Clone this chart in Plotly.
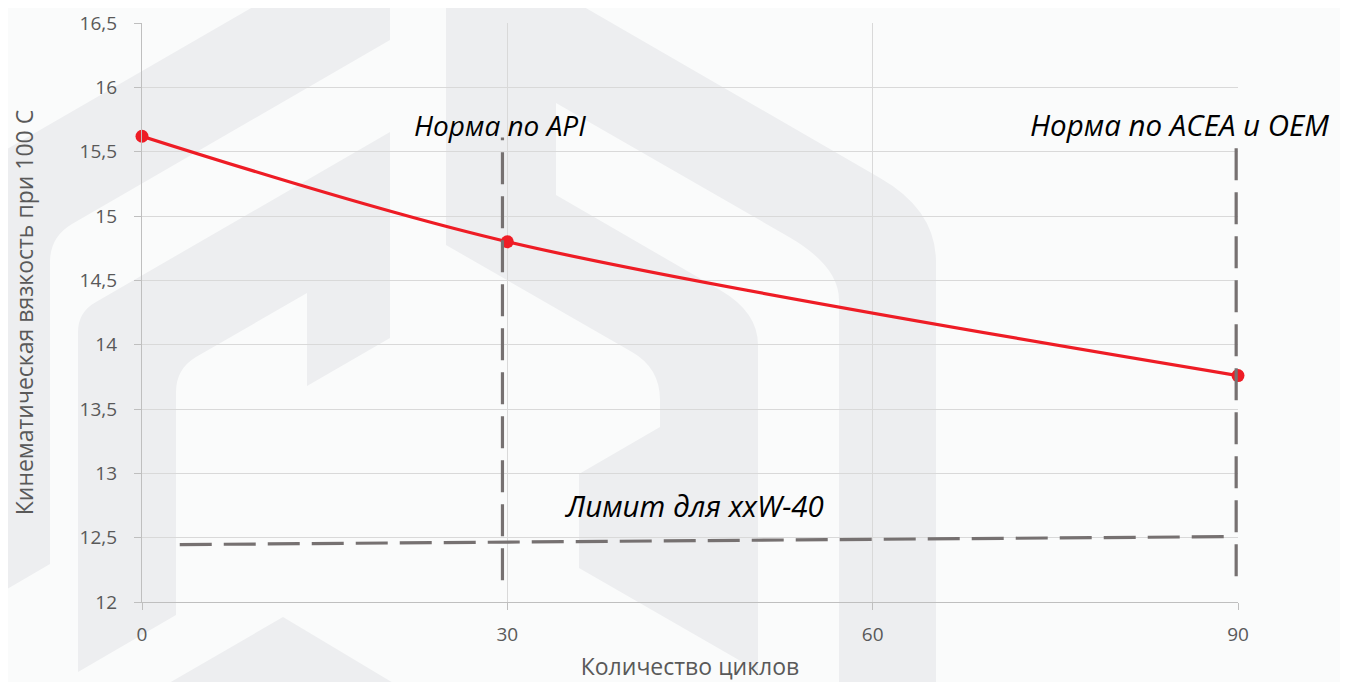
import plotly.graph_objects as go

# ---------------- data ----------------
cycles = [0, 30, 90]
viscosity = [15.62, 14.80, 13.76]

api_x = [29.6, 29.6]
api_y = [12.17, 15.61]

acea_x = [89.85, 89.85]
acea_y = [12.20, 15.53]

limit_x = [3.1, 88.9]
limit_y = [12.446, 12.508]

x_ticks = [0, 30, 60, 90]
y_ticks = [12, 12.5, 13, 13.5, 14, 14.5, 15, 15.5, 16, 16.5]
y_ticklabels = ["12", "12,5", "13", "13,5", "14", "14,5", "15", "15,5", "16", "16,5"]

label_api = "Норма по API"
label_acea = "Норма по ACEA и OEM"
label_limit = "Лимит для xxW-40"
x_title = "Количество циклов"
y_title = "Кинематическая вязкость при 100 С"

# ---------------- layout geometry ----------------
# the page body adds an 8px margin, so the figure is placed at (8, 8)
OFF = 8
SW, SH = 1348, 682              # screen size
PL, PR, PT, PB = 142, 1238, 23, 602   # wanted plot area on screen
W, H = SW - OFF, SH - OFF
ML, MT = PL - OFF, PT - OFF
MR, MB = W - (PR - OFF), H - (PB - OFF)
PW, PH = PR - PL, PB - PT

FONT = "Open Sans"
TICK_COLOR = "#595959"
GRID = "#d9d9d9"
AXIS = "#bfbfbf"
RED = "#ee1c25"
DASH_GREY = "#767171"
LOGO = "#edeef0"
BG = "#fafbfb"


def px(X, Y):
    """screen pixel -> paper coordinates"""
    return (X - PL) / PW, (PB - Y) / PH


def path_from(cmds):
    out = []
    for c in cmds:
        op = c[0]
        pts = c[1:]
        coords = []
        for i in range(0, len(pts), 2):
            a, b = px(pts[i], pts[i + 1])
            coords.append(f"{a:.5f},{b:.5f}")
        out.append(op + " " + " ".join(coords))
    return " ".join(out) + " Z"


logo_paths = [
    # left element, outer band with leg
    [("M", -10, 159), ("L", 265, 0), ("L", 390, 0), ("L", 390, 40), ("L", 72, 224),
     ("Q", 50, 237, 50, 262), ("L", 50, 564), ("L", -10, 599)],
    # left element, inner band with leg and notch
    [("M", 78, 332), ("Q", 78, 312, 96, 302), ("L", 390, 132), ("L", 390, 338),
     ("L", 307, 386), ("L", 307, 293), ("L", 196, 357), ("Q", 176, 369, 176, 392),
     ("L", 176, 615), ("L", 78, 672)],
    # middle element
    [("M", 446, -10), ("L", 572, -10), ("L", 572, 0), ("L", 880, 178), ("Q", 936, 210, 936, 262),
     ("L", 936, 690), ("L", 839, 690), ("L", 839, 300), ("Q", 839, 266, 789, 237),
     ("L", 556, 103), ("L", 556, 195), ("L", 720, 290), ("Q", 758, 312, 758, 345),
     ("L", 758, 671), ("L", 579, 568), ("L", 579, 474), ("L", 660, 427),
     ("L", 660, 400), ("Q", 660, 368, 632, 352), ("L", 446, 245)],
    # bottom chevron
    [("M", 157, 690), ("L", 283, 617), ("L", 405, 690)],
]

shapes = [
    dict(type="path", xref="paper", yref="paper", path=path_from(p),
         fillcolor=LOGO, line=dict(width=0), layer="below")
    for p in logo_paths
]

fig = go.Figure()

fig.add_trace(go.Scatter(
    x=cycles, y=viscosity, mode="lines+markers",
    line=dict(color=RED, width=3.2, shape="spline", smoothing=0.9),
    marker=dict(color=RED, size=13),
    cliponaxis=False, showlegend=False, hoverinfo="skip"))

for xs, ys in [(api_x, api_y), (acea_x, acea_y), (limit_x, limit_y)]:
    fig.add_trace(go.Scatter(
        x=xs, y=ys, mode="lines",
        line=dict(color=DASH_GREY, width=3.2, dash="32px,12px"),
        cliponaxis=False, showlegend=False, hoverinfo="skip"))

ann_font = dict(family=FONT, size=28, color="#000000")
ax, ay = px(412, 125)
fig.add_annotation(x=ax, y=ay, xref="paper", yref="paper", text=f"<i>{label_api}</i>",
                   showarrow=False, xanchor="left", yanchor="middle", font=ann_font)
ax, ay = px(1331, 125)
fig.add_annotation(x=ax, y=ay, xref="paper", yref="paper", text=f"<i>{label_acea}</i>",
                   showarrow=False, xanchor="right", yanchor="middle",
                   font=dict(family=FONT, size=29.5, color="#000000"))
ax, ay = px(563, 505)
fig.add_annotation(x=ax, y=ay, xref="paper", yref="paper", text=f"<i>{label_limit}</i>",
                   showarrow=False, xanchor="left", yanchor="middle",
                   font=dict(family=FONT, size=29.5, color="#000000"))

fig.update_layout(
    width=W, height=H,
    margin=dict(l=ML, r=MR, t=MT, b=MB, autoexpand=False),
    paper_bgcolor=BG, plot_bgcolor="rgba(0,0,0,0)",
    shapes=shapes,
    showlegend=False,
    font=dict(family=FONT, color=TICK_COLOR),
)

fig.update_xaxes(
    range=[0, 90], tickvals=x_ticks, ticktext=[str(v) for v in x_ticks],
    showgrid=True, gridcolor=GRID, gridwidth=1.3,
    showline=True, linecolor=AXIS, linewidth=1.3,
    ticks="outside", ticklen=7, tickcolor=AXIS, tickwidth=1.3,
    ticklabelstandoff=8,
    tickfont=dict(family=FONT, size=19, color=TICK_COLOR),
    zeroline=False,
    title=dict(text=x_title, font=dict(family=FONT, size=23, color=TICK_COLOR), standoff=15),
)
fig.update_yaxes(
    range=[12, 16.5], tickvals=y_ticks, ticktext=y_ticklabels,
    showgrid=True, gridcolor=GRID, gridwidth=1.3,
    showline=True, linecolor=AXIS, linewidth=1.3,
    ticks="outside", ticklen=7, tickcolor=AXIS, tickwidth=1.3,
    ticklabelstandoff=13,
    tickfont=dict(family=FONT, size=19, color=TICK_COLOR),
    zeroline=False,
    title=dict(text=y_title, font=dict(family=FONT, size=23, color=TICK_COLOR), standoff=41),
)

fig.write_html("out.html")
